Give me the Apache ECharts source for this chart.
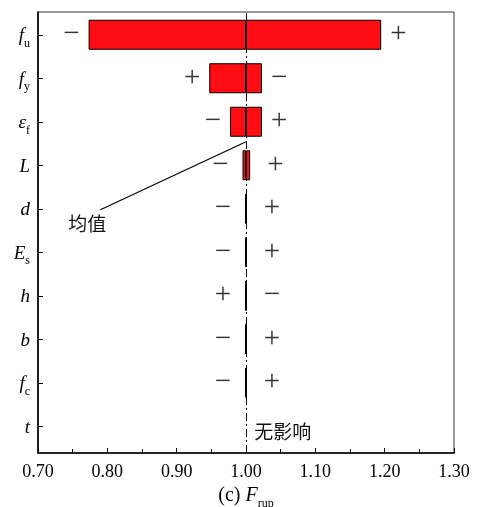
<!DOCTYPE html>
<html>
<head>
<meta charset="utf-8">
<script src="https://cdn.jsdelivr.net/npm/echarts@6/dist/echarts.min.js"></script>
<style>
  html, body { margin: 0; padding: 0; background: #fff; }
  #chart { width: 477px; height: 507px; }
</style>
</head>
<body>
<div id="chart"></div>
<script>
// Parameters (rich-text keys) in the order shown top to bottom
const categories = ['fu', 'fy', 'ef', 'L', 'd', 'Es', 'h', 'b', 'fc', 't'];
const categoryLabels = [
  '{i|f}{s|u}', '{i|f}{s|y}', '{i|ε}{s|f}', '{i|L}', '{i|d}',
  '{i|E}{s|s}', '{i|h}', '{i|b}', '{i|f}{s|c}', '{i|t}'
];
// Normalised rupture load range for each parameter (low / high end)
const lowValues  = [0.773, 0.947, 0.977, 0.995, 0.999, 0.999, 0.999, 0.999, 0.999, null];
const highValues = [1.195, 1.023, 1.023, 1.006, 1.001, 1.001, 1.001, 1.001, 1.001, null];
// Sign of the parameter change at each end of the bar
const leftSigns  = ['−', '+', '−', '−', '−', '−', '+', '−', '−', ''];
const rightSigns = ['+', '−', '+', '+', '+', '+', '−', '+', '+', ''];
const xTicks = [0.70, 0.80, 0.90, 1.00, 1.10, 1.20, 1.30];
const meanValue = 1.0;

const serif = '"Liberation Serif", "Times New Roman", serif';
const cjk = '"Noto Sans CJK SC", sans-serif';
const barRed = '#ff0d12';
const xMin = xTicks[0], xMax = xTicks[xTicks.length - 1];

// Narrow bars get their signs pushed a little further out
const signGap = (i, side) => {
  const span = (highValues[i] || 0) - (lowValues[i] || 0);
  if (span >= 0.02) return 9;
  return side === 'left' ? 14 : 17;
};

const signItem = (value, i, signs, side) => value == null ? '-' : {
  value: value,
  label: {
    show: true,
    position: side,
    distance: signGap(i, side),
    fontFamily: serif,
    fontSize: 29,
    color: '#333',
    formatter: () => signs[i]
  }
};

const baseData  = lowValues.map(v => v == null ? '-' : v);
const lowerData = lowValues.map((v, i) => signItem(v == null ? null : +(meanValue - v).toFixed(4), i, leftSigns, 'left'));
const upperData = highValues.map((v, i) => signItem(v == null ? null : +(v - meanValue).toFixed(4), i, rightSigns, 'right'));

const chart = echarts.init(document.getElementById('chart'), null, { renderer: 'canvas' });

const subRich = size => ({
  i: { fontFamily: serif, fontSize: size, fontStyle: 'italic', color: '#000', lineHeight: 22, verticalAlign: 'bottom' },
  s: { fontFamily: serif, fontSize: 12, color: '#000', lineHeight: 22, verticalAlign: 'bottom', padding: [0, 0, -4, 0] }
});

chart.setOption({
  animation: false,
  backgroundColor: '#fff',
  grid: [
    // frame with the value axis
    {
      left: 38, right: 23, top: 12, bottom: 54,
      containLabel: false, outerBoundsMode: 'none',
      show: true, borderColor: '#333', borderWidth: 1, backgroundColor: 'transparent'
    },
    // rows of the parameters
    {
      left: 38, right: 23, top: 13, bottom: 59,
      containLabel: false, outerBoundsMode: 'none'
    }
  ],
  xAxis: [
    {
      gridIndex: 0, type: 'value',
      min: xMin, max: xMax, interval: 0.1,
      axisLine: { show: true, lineStyle: { color: '#000', width: 1.6 } },
      axisTick: { show: true, inside: true, length: 5, lineStyle: { color: '#000' } },
      minorTick: { show: true, splitNumber: 2, length: 4, lineStyle: { color: '#000' } },
      splitLine: { show: false },
      axisLabel: {
        color: '#000', fontFamily: serif, fontSize: 18, margin: 10,
        formatter: v => v.toFixed(2)
      },
      name: '{n|(c) }{i|F}{s|rup}',
      nameLocation: 'middle',
      nameGap: 30,
      nameTextStyle: {
        rich: Object.assign({
          n: { fontFamily: serif, fontSize: 20, color: '#000', lineHeight: 22, verticalAlign: 'bottom' }
        }, subRich(20))
      }
    },
    {
      gridIndex: 1, type: 'value',
      min: xMin, max: xMax, interval: 0.1, show: false
    }
  ],
  yAxis: [
    {
      gridIndex: 0, type: 'value', min: 0, max: 1,
      axisLine: { show: true, lineStyle: { color: '#000', width: 1.6 } },
      axisTick: { show: false }, axisLabel: { show: false }, splitLine: { show: false }
    },
    {
      gridIndex: 1, type: 'category',
      data: categories,
      inverse: true,
      axisLine: { show: false },
      axisTick: { show: true, inside: true, length: 5, alignWithLabel: true, lineStyle: { color: '#000' } },
      splitLine: { show: false },
      axisLabel: {
        margin: 8,
        formatter: (v, i) => categoryLabels[i],
        rich: subRich(19)
      }
    }
  ],
  series: [
    {
      // carries the dash-dot line at the mean
      name: 'mean', type: 'line', xAxisIndex: 0, yAxisIndex: 0, data: [],
      silent: true, z: 1,
      markLine: {
        silent: true, symbol: 'none',
        label: { show: false },
        lineStyle: { color: '#000', width: 1, type: [8, 3, 2, 3] },
        data: [{ xAxis: meanValue }]
      }
    },
    {
      name: 'base', type: 'bar', stack: 'range', data: baseData,
      xAxisIndex: 1, yAxisIndex: 1,
      barWidth: '69%', silent: true,
      itemStyle: { color: 'transparent', borderWidth: 0 }
    },
    {
      name: 'lower', type: 'bar', stack: 'range', data: lowerData,
      xAxisIndex: 1, yAxisIndex: 1,
      barWidth: '69%', z: 3,
      itemStyle: { color: barRed, borderColor: '#000', borderWidth: 1 }
    },
    {
      name: 'upper', type: 'bar', stack: 'range', data: upperData,
      xAxisIndex: 1, yAxisIndex: 1,
      barWidth: '69%', z: 3,
      itemStyle: { color: barRed, borderColor: '#000', borderWidth: 1 }
    }
  ]
});

// Callouts for the mean line, positioned through the axes
const px = (x, cat, dy) => {
  const p = chart.convertToPixel({ xAxisIndex: 1, yAxisIndex: 1 }, [x, cat]);
  return [p[0], p[1] + (dy || 0)];
};
const lineStart = px(meanValue, 2, 20);
const lineEnd = px(0.79, 4, 1);
const meanText = px(0.771, 4, 15);
const noneText = px(1.012, 9, 6);

chart.setOption({
  graphic: [
    {
      type: 'line', z: 10,
      shape: { x1: lineStart[0], y1: lineStart[1], x2: lineEnd[0], y2: lineEnd[1] },
      style: { stroke: '#000', lineWidth: 1.2 }
    },
    {
      type: 'text', z: 10, x: meanText[0], y: meanText[1],
      style: { text: '均值', font: '19px ' + cjk, fill: '#111', align: 'center', verticalAlign: 'middle' }
    },
    {
      type: 'text', z: 10, x: noneText[0], y: noneText[1],
      style: { text: '无影响', font: '19px ' + cjk, fill: '#111', align: 'left', verticalAlign: 'middle' }
    }
  ]
});
</script>
</body>
</html>
